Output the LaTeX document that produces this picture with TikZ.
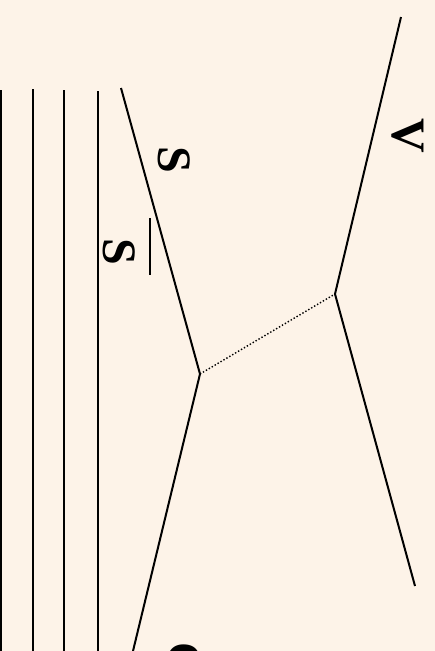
\documentclass[tikz,border=0pt]{standalone}
\usepackage{fontspec}
\setmainfont{Liberation Serif}
\definecolor{bg}{RGB}{253,243,232}
\begin{document}
\begin{tikzpicture}[x=1pt,y=-1pt,
  prop/.style={line width=2pt},
  exch/.style={line width=1.4pt,dash pattern=on 1.4pt off 2pt},
  lbl/.style={rotate=-90,inner sep=0pt,font=\fontsize{48}{48}\selectfont\bfseries}]
\fill[bg] (0,0) rectangle (435,651);
\useasboundingbox (0,0) rectangle (435,651);
% spectator lines
\coordinate (s1t) at (1,90);   \coordinate (s1b) at (1,651);
\coordinate (s2t) at (33,89);  \coordinate (s2b) at (33,651);
\coordinate (s3t) at (64,90);  \coordinate (s3b) at (64,651);
\coordinate (s4t) at (98,91);  \coordinate (s4b) at (98,651);
\draw[prop] (s1t) -- (s1b);
\draw[prop] (s2t) -- (s2b);
\draw[prop] (s3t) -- (s3b);
\draw[prop] (s4t) -- (s4b);
% vertices
\coordinate (v1) at (200,374);
\coordinate (v2) at (335,294);
\coordinate (a) at (121,88);
\coordinate (b) at (133,651);
\coordinate (c) at (401,17);
\coordinate (d) at (415,586);
\draw[prop] (a) -- (v1) -- (b);
\draw[prop] (c) -- (v2) -- (d);
\draw[exch] (v1) -- (v2);
% labels
\node[lbl] (lS) at (174,160) {S};
\node[lbl,anchor=base west] (lSb) at (103,218)
  {\rlap{\raisebox{46pt}{\rule{57pt}{2.2pt}}}\hspace{20pt}S\hspace{10pt}};
\node[lbl] (lV) at (408,136) {V};
\node[lbl] (lC) at (184,660) {C};
\end{tikzpicture}
\end{document}
